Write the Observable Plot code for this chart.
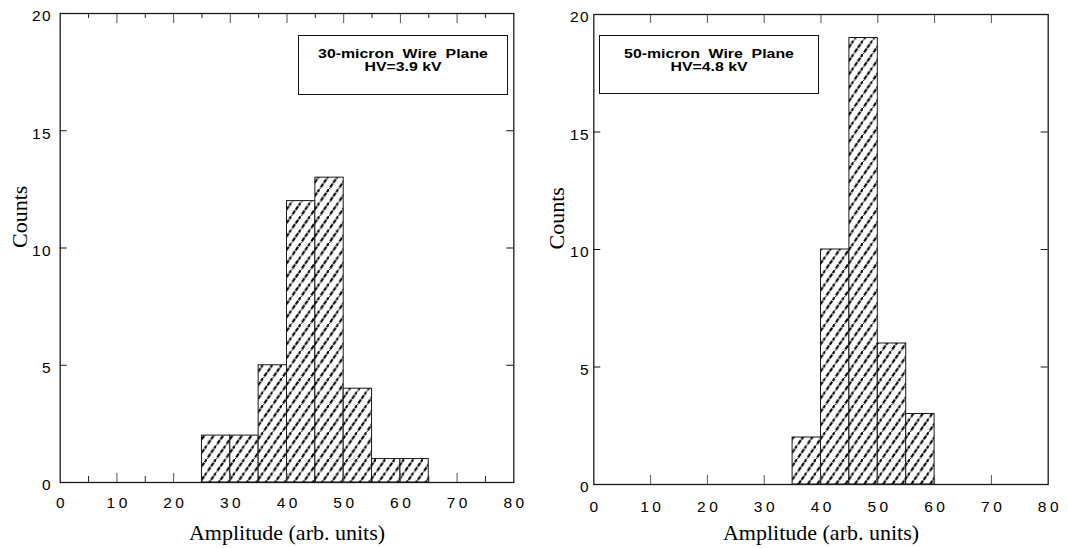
<!DOCTYPE html>
<html><head><meta charset="utf-8">
<script src="https://cdn.jsdelivr.net/npm/d3@7"></script>
<script src="https://cdn.jsdelivr.net/npm/@observablehq/plot@0.6"></script>
<style>
html,body{margin:0;padding:0;background:#fff;}
#wrap{display:flex;width:1068px;height:548px;overflow:hidden;}
.panel{position:relative;width:534px;height:548px;}
.panel svg{display:block;}
.legend{position:absolute;box-sizing:border-box;border:1px solid #111;background:#fff;font-family:"Liberation Sans",Arial,sans-serif;font-weight:bold;font-size:12px;line-height:12.6px;text-align:center;color:#000;padding-top:12px;}
.legend .ln{display:block;white-space:pre;transform:scaleX(1.32);transform-origin:center;}
svg g[aria-label="x-axis tick label"]{font-size:15.5px !important;letter-spacing:3.5px;}
svg g[aria-label="y-axis tick label"]{font-size:15.5px !important;letter-spacing:1.5px;}
</style></head>
<body>
<svg width="0" height="0" style="position:absolute">
  <defs>
    <pattern id="hatch" patternUnits="userSpaceOnUse" width="9.4" height="13.5">
      <rect width="9.4" height="13.5" fill="#fff"/>
      <line x1="-2" y1="16.37" x2="11.4" y2="-2.87" stroke="#000" stroke-width="2.1" stroke-dasharray="4.5 0.97"/>
    </pattern>
  </defs>
</svg>
<div id="wrap"></div>
<script>
// ---- data ----
const binWidth = 5;
const leftBinStarts = [25, 30, 35, 40, 45, 50, 55, 60];
const leftCounts    = [2, 2, 5, 12, 13, 4, 1, 1];
const rightBinStarts = [35, 40, 45, 50, 55];
const rightCounts    = [2, 10, 19, 6, 3];
const xTicks = [0, 10, 20, 30, 40, 50, 60, 70, 80];
const yTicks = [0, 5, 10, 15, 20];
const xInnerMajor = [10, 20, 30, 40, 50, 60, 70];
const xInnerMinor = [5, 15, 25, 35, 45, 55, 65, 75];
const yInner = [5, 10, 15];
const xLabel = "Amplitude (arb. units)";
const yLabel = "Counts";
const leftLegend = ["30-micron  Wire  Plane", "HV=3.9 kV"];
const rightLegend = ["50-micron  Wire  Plane", "HV=4.8 kV"];

const W = 534, H = 548;
const serif = "Liberation Serif, Times New Roman, serif";

function panel(o) {
  const data = o.starts.map((s, i) => ({x0: s, x1: s + binWidth, count: o.counts[i]}));
  const fw = W - o.ml - o.mr, fh = H - o.mt - o.mb;
  const marks = [
    Plot.rectY(data, {x1: "x0", x2: "x1", y: "count", fill: "url(#hatch)", stroke: "#1a1a1a", strokeWidth: 1}),
    Plot.ruleX(xInnerMajor, {insetTop: fh - 9, stroke: "#555"}),
    Plot.ruleX(xInnerMajor, {insetBottom: fh - o.topMajor, stroke: "#555"}),
    Plot.ruleY(yInner, {insetRight: fw - 7, stroke: "#111"}),
    Plot.ruleY(yInner, {insetLeft: fw - 7, stroke: "#111"}),
  ];
  if (o.minor) {
    marks.push(Plot.ruleX(xInnerMinor, {insetTop: fh - 6, stroke: "#222"}));
    marks.push(Plot.ruleX(xInnerMinor, {insetBottom: fh - 5, stroke: "#222"}));
  }
  marks.push(
    Plot.frame({stroke: "#1a1a1a", strokeWidth: 1.3}),
    Plot.axisX(xTicks, {tickSize: 0, tickPadding: o.padX, fontSize: 16, label: null, dx: 1.75}),
    Plot.axisY(yTicks, {tickSize: 0, tickPadding: o.padY, fontSize: 16, dy: 3, label: null}),
    Plot.text([xLabel], {text: d => d, frameAnchor: "bottom", dy: o.dyAmp, fontFamily: serif, fontSize: 22}),
    Plot.text([yLabel], {text: d => d, frameAnchor: "left", dx: o.dxCounts, rotate: -90, fontFamily: serif, fontSize: 22})
  );
  return Plot.plot({
    width: W, height: H,
    marginTop: o.mt, marginBottom: o.mb, marginLeft: o.ml, marginRight: o.mr,
    x: {domain: [0, 80]},
    y: {domain: [0, 20]},
    style: {fontFamily: "Liberation Sans, Arial, sans-serif", fontSize: "16px", color: "#000", background: "#fff", overflow: "visible"},
    marks
  });
}

function addPanel(o, legend, box) {
  const div = document.createElement("div");
  div.className = "panel";
  div.appendChild(panel(o));
  const lg = document.createElement("div");
  lg.className = "legend";
  lg.style.left = box.left + "px";
  lg.style.top = box.top + "px";
  lg.style.width = box.width + "px";
  lg.style.height = box.height + "px";
  legend.forEach(t => { const s = document.createElement("span"); s.className = "ln"; s.textContent = t; lg.appendChild(s); });
  div.appendChild(lg);
  document.getElementById("wrap").appendChild(div);
}

addPanel({starts: leftBinStarts, counts: leftCounts, minor: true, topMajor: 10,
  mt: 13, mb: 66, ml: 59.7, mr: 20.7, padX: 14, padY: 8, dyAmp: 57, dxCounts: -40},
  leftLegend, {left: 297.7, top: 35, width: 210, height: 60});
addPanel({starts: rightBinStarts, counts: rightCounts, minor: false, topMajor: 9,
  mt: 14, mb: 64, ml: 59.3, mr: 20.3, padX: 16.5, padY: 3.6, dyAmp: 55, dxCounts: -37},
  rightLegend, {left: 65.3, top: 35, width: 220, height: 59});
</script>
</body></html>
